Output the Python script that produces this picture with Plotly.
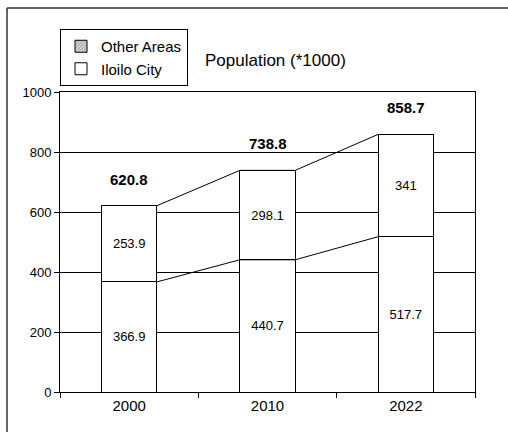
import plotly.graph_objects as go

years = ["2000", "2010", "2022"]
iloilo = [366.9, 440.7, 517.7]
other = [253.9, 298.1, 341]
title_text = "Population (*1000)"
y_ticks = [0, 200, 400, 600, 800, 1000]

totals = [round(a + b, 1) for a, b in zip(iloilo, other)]
pos = list(range(len(years)))
FONT = "Liberation Sans, Arial, sans-serif"
BW = 0.4

fig = go.Figure()
fig.add_trace(go.Bar(x=pos, y=iloilo, width=BW, marker=dict(color="white", line=dict(color="black", width=1)),
                     texttemplate="%{y}", textposition="inside", insidetextanchor="middle",
                     textfont=dict(size=13, color="black", family=FONT), showlegend=False, hoverinfo="skip"))
fig.add_trace(go.Bar(x=pos, y=other, width=BW, marker=dict(color="white", line=dict(color="black", width=1)),
                     texttemplate="%{y}", textposition="inside", insidetextanchor="middle",
                     textfont=dict(size=13, color="black", family=FONT), showlegend=False, hoverinfo="skip"))
# legend entries
fig.add_trace(go.Bar(x=[pos[0]], y=[None], name="Other Areas", legendgroup="a",
                     marker=dict(color="white", line=dict(color="black", width=1),
                                 pattern=dict(shape="/", fgcolor="#555", bgcolor="#ddd", size=3, solidity=0.4))))
fig.add_trace(go.Bar(x=[pos[0]], y=[None], name="Iloilo City", legendgroup="b",
                     marker=dict(color="white", line=dict(color="black", width=1))))

# series lines
for vals in (totals, iloilo):
    fig.add_trace(go.Scatter(x=[p + s for p in pos for s in (-BW / 2, BW / 2)][1:-1],
                             y=[v for v in vals for _ in (0, 1)][1:-1],
                             mode="lines", line=dict(color="black", width=1), showlegend=False, hoverinfo="skip"))

for i, t in enumerate(totals):
    fig.add_annotation(x=pos[i], y=t, text="<b>%s</b>" % t, showarrow=False, yanchor="bottom", yshift=16,
                       font=dict(size=15, color="black", family=FONT))

# outer chart border (partially visible)
fig.add_shape(type="line", xref="paper", yref="paper", x0=-0.1277, x1=1.2, y0=1.28, y1=1.28, line=dict(color="#333", width=1.5))
fig.add_shape(type="line", xref="paper", yref="paper", x0=-0.1277, x1=-0.1277, y0=1.28, y1=-0.3, line=dict(color="#333", width=1.5))

fig.update_layout(
    width=508, height=432, margin=dict(l=60, r=33, t=92, b=40),
    paper_bgcolor="white", plot_bgcolor="white", barmode="stack",
    font=dict(family=FONT, size=13, color="black"),
    title=dict(text=title_text, x=0.519, xref="paper", xanchor="center", y=1 - 60 / 432, yref="container", yanchor="middle",
               font=dict(size=17, family=FONT, color="black")),
    legend=dict(x=0, y=1.21, xanchor="left", yanchor="top", xref="paper", yref="paper", traceorder="normal",
                bordercolor="black", borderwidth=1, bgcolor="white", tracegroupgap=6,
                font=dict(size=15, family=FONT, color="black")),
    xaxis=dict(range=[-0.5, 2.5], tickvals=pos, ticktext=years, ticks="", showline=True, linecolor="black",
               linewidth=1, mirror=True, showgrid=False, zeroline=False, tickfont=dict(size=15),
               minor=dict(tick0=-0.5, dtick=1, ticks="outside", ticklen=5, tickcolor="black", showgrid=False)),
    yaxis=dict(range=[0, 1000], tickvals=y_ticks, showline=True, linecolor="black", linewidth=1, mirror=True,
               ticks="outside", ticklen=5, tickcolor="black", showgrid=True, gridcolor="black", gridwidth=1,
               zeroline=False, tickfont=dict(size=13)),
)
fig.write_html("out.html")
